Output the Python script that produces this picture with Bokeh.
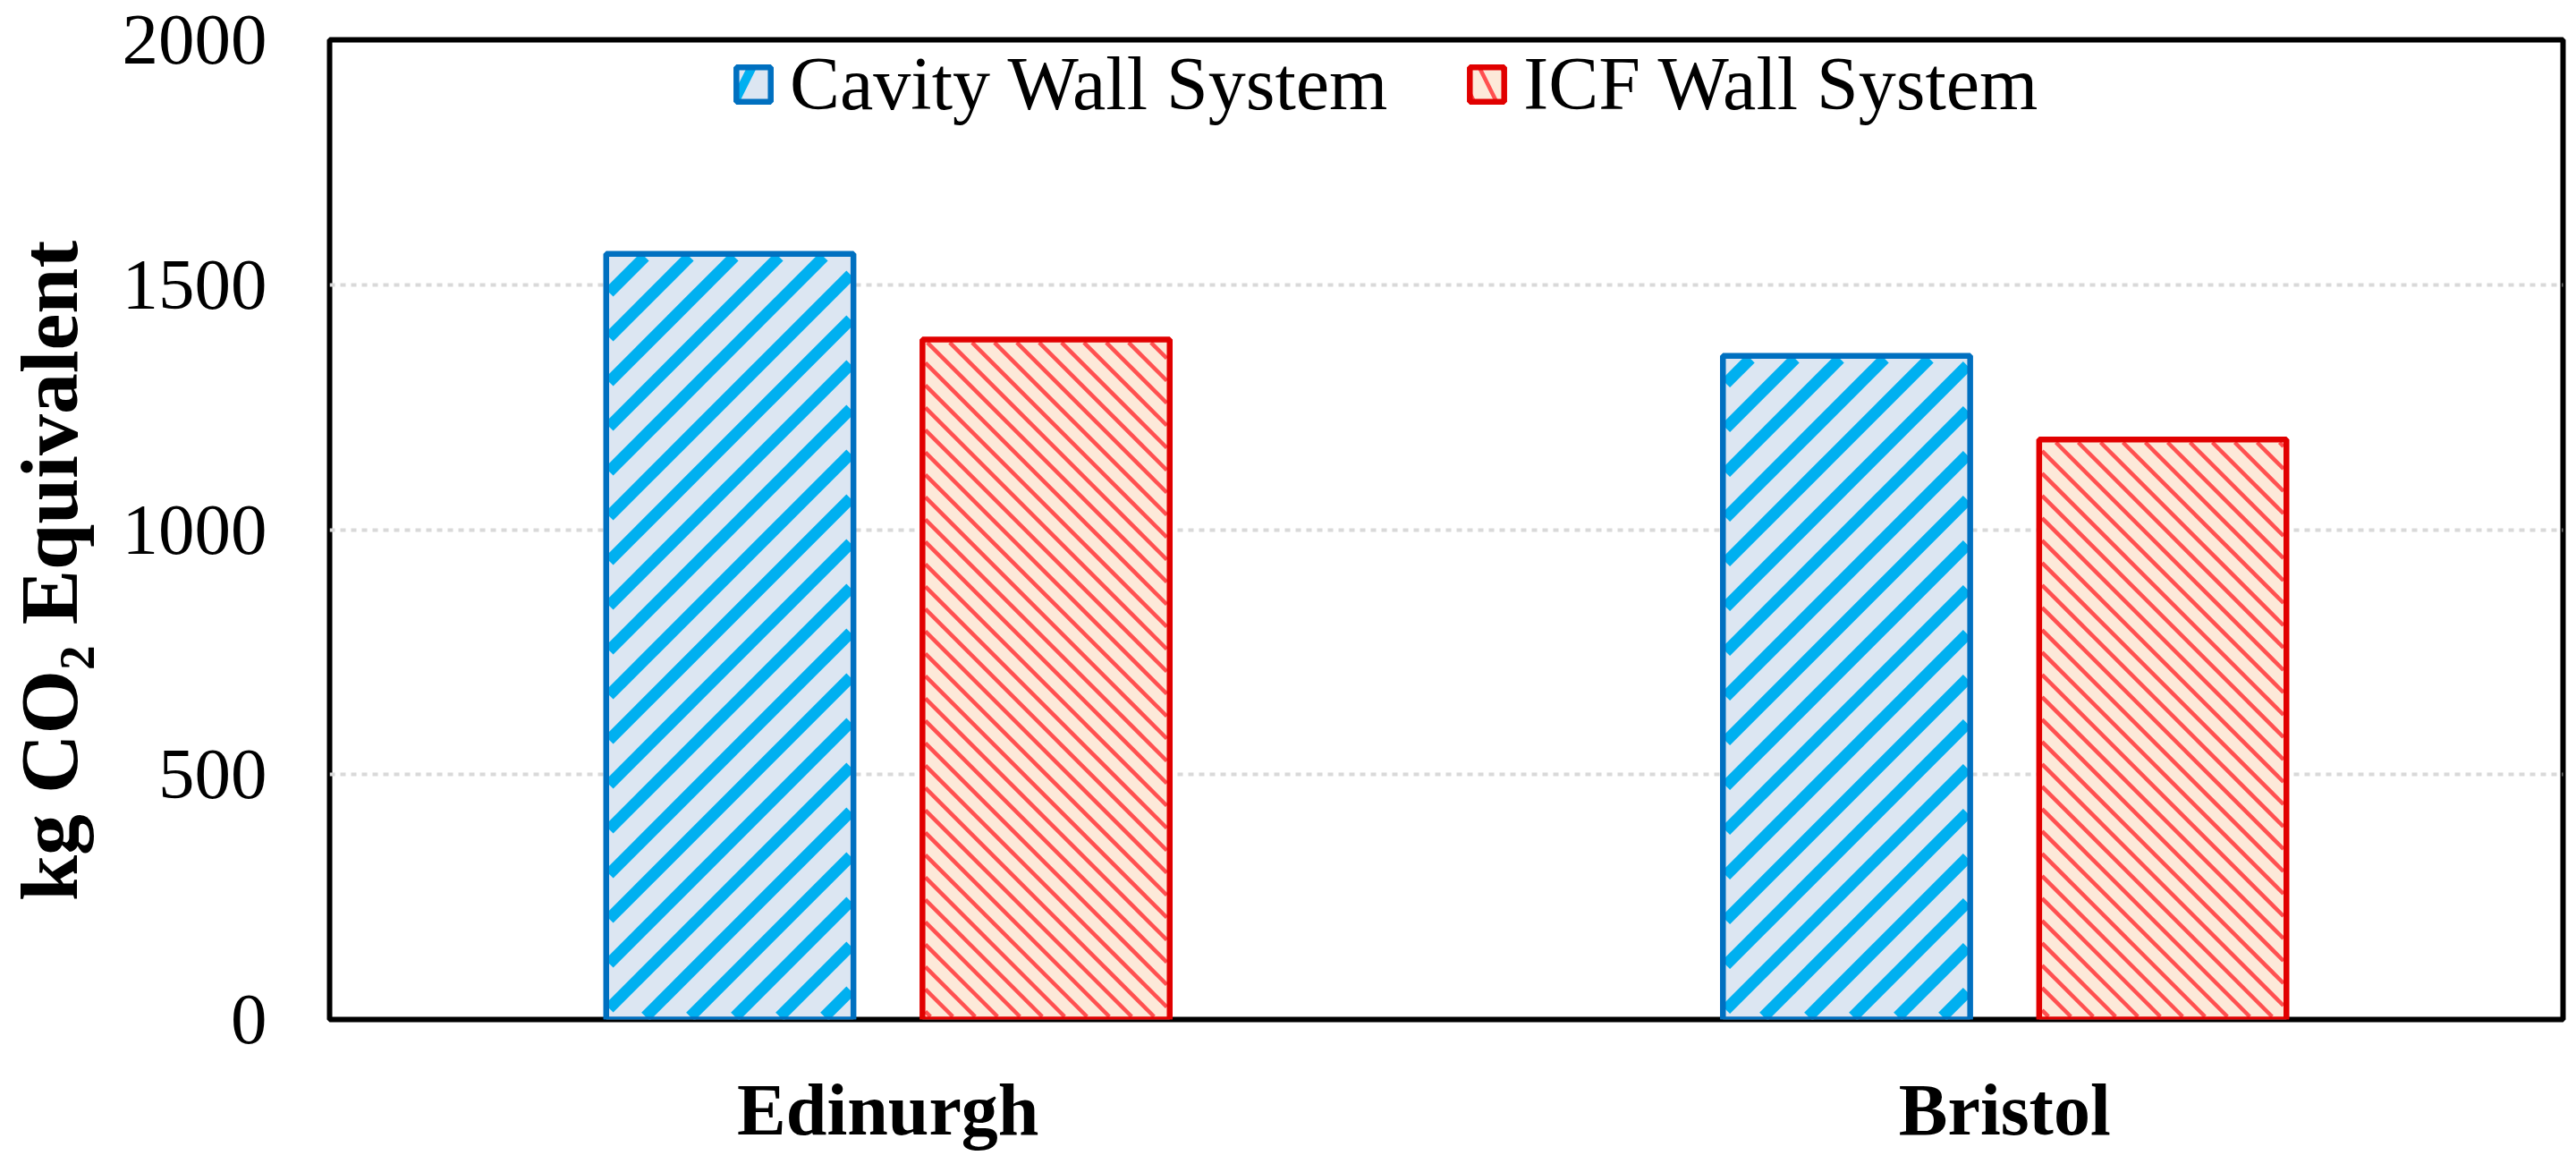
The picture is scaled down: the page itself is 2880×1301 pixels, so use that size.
from bokeh.plotting import figure
from bokeh.models import (FactorRange, Range1d, FixedTicker, Legend, LegendItem,
                          ColumnDataSource)
from bokeh.transform import dodge
from bokeh.embed import file_html
from bokeh.resources import INLINE

# ---- data ----
cities = ["Edinurgh", "Bristol"]
cavity_wall = [1563, 1355]
icf_wall = [1388, 1184]
y_ticks = [0, 500, 1000, 1500, 2000]
series_names = ["Cavity Wall System", "ICF Wall System"]

FONT = "Liberation Serif"
Y_MAX = 2000
FRAME_W, FRAME_H = 2497, 1095
BAR_W, OFFSET = 0.2214, 0.1416
BORDER = 6.5


def stripes(values, offset, spacing, direction):
    """45-degree stripe segments (in data coords) clipped to each bar's inner area."""
    kx = FRAME_W / len(cities)
    ky = FRAME_H / Y_MAX
    inset = BORDER / 2
    xs0, ys0, xs1, ys1 = [], [], [], []
    for i, v in enumerate(values):
        cx = i + 0.5 + offset
        X0 = (cx - BAR_W / 2) * kx + inset
        X1 = (cx + BAR_W / 2) * kx - inset
        Y0 = inset
        Y1 = v * ky - inset
        if direction == "up":
            n0 = int((Y0 - X1) // spacing) - 1
            n1 = int((Y1 - X0) // spacing) + 2
            for n in range(n0, n1):
                c = n * spacing
                a, b = max(X0, Y0 - c), min(X1, Y1 - c)
                if b > a:
                    xs0.append(a / kx); ys0.append((a + c) / ky)
                    xs1.append(b / kx); ys1.append((b + c) / ky)
        else:
            n0 = int((X0 + Y0) // spacing) - 1
            n1 = int((X1 + Y1) // spacing) + 2
            for n in range(n0, n1):
                c = n * spacing
                a, b = max(X0, c - Y1), min(X1, c - Y0)
                if b > a:
                    xs0.append(a / kx); ys0.append((c - a) / ky)
                    xs1.append(b / kx); ys1.append((c - b) / ky)
    return dict(x0=xs0, y0=ys0, x1=xs1, y1=ys1)


p = figure(x_range=FactorRange(factors=cities), y_range=Range1d(0, Y_MAX),
           frame_width=FRAME_W, frame_height=FRAME_H,
           output_backend="svg", toolbar_location=None,
           min_border_left=362, min_border_top=44, min_border_right=5, min_border_bottom=0)

source = ColumnDataSource(dict(city=cities, cavity=cavity_wall, icf=icf_wall))

BLUE_EDGE, BLUE_FILL, BLUE_HATCH = "#0070C0", "#DCE6F2", "#00B0F0"
RED_EDGE, RED_FILL, RED_HATCH = "#E10000", "#FDE9D9", "#FF5050"

# bar fills
p.vbar(x=dodge("city", -OFFSET, range=p.x_range), top="cavity", width=BAR_W, source=source,
       fill_color=BLUE_FILL, line_color=None)
p.vbar(x=dodge("city", OFFSET, range=p.x_range), top="icf", width=BAR_W, source=source,
       fill_color=RED_FILL, line_color=None)

# stripes
p.segment(x0="x0", y0="y0", x1="x1", y1="y1", source=ColumnDataSource(stripes(cavity_wall, -OFFSET, 50, "up")),
          line_color=BLUE_HATCH, line_width=13, line_cap="butt")
p.segment(x0="x0", y0="y0", x1="x1", y1="y1", source=ColumnDataSource(stripes(icf_wall, OFFSET, 25, "down")),
          line_color=RED_HATCH, line_width=4.5, line_cap="butt")

# bar outlines
o1 = p.vbar(x=dodge("city", -OFFSET, range=p.x_range), top="cavity", width=BAR_W, source=source,
            fill_color=None, line_color=BLUE_EDGE, line_width=BORDER)
o2 = p.vbar(x=dodge("city", OFFSET, range=p.x_range), top="icf", width=BAR_W, source=source,
            fill_color=None, line_color=RED_EDGE, line_width=BORDER)

# zero-height bars that only feed the legend swatches (fill + hatch)
k1 = p.vbar(x=dodge("city", -OFFSET, range=p.x_range), top="cavity", bottom="cavity", width=BAR_W,
            source=source, fill_color=BLUE_FILL, line_alpha=0,
            hatch_pattern="/", hatch_color=BLUE_HATCH, hatch_scale=96, hatch_weight=10)
k2 = p.vbar(x=dodge("city", OFFSET, range=p.x_range), top="icf", bottom="icf", width=BAR_W,
            source=source, fill_color=RED_FILL, line_alpha=0,
            hatch_pattern="\\", hatch_color=RED_HATCH, hatch_scale=50, hatch_weight=4.5)

# frame
p.outline_line_color = "black"
p.outline_line_width = 6
p.outline_line_alpha = 1

# grid
p.xgrid.grid_line_color = None
p.ygrid.grid_line_color = "#D9D9D9"
p.ygrid.grid_line_width = 4
p.ygrid.grid_line_dash = "6 6"
p.ygrid.ticker = FixedTicker(ticks=[500, 1000, 1500])

# y axis
p.yaxis.ticker = FixedTicker(ticks=y_ticks)
p.yaxis.axis_line_color = None
p.yaxis.major_tick_line_color = None
p.yaxis.minor_tick_line_color = None
p.yaxis.major_tick_out = 0
p.yaxis.major_tick_in = 0
p.yaxis.major_label_standoff = 70
p.yaxis.major_label_text_font = FONT
p.yaxis.major_label_text_font_size = "81px"
p.yaxis.major_label_text_color = "black"
p.yaxis.axis_label = "kg CO\u2082 Equivalent" + "\u00a0" * 4
p.yaxis.axis_label_text_font = FONT
p.yaxis.axis_label_text_font_style = "bold"
p.yaxis.axis_label_text_font_size = "92px"
p.yaxis.axis_label_text_color = "black"
p.yaxis.axis_label_standoff = 28

# x axis
p.xaxis.axis_line_color = None
p.xaxis.major_tick_line_color = None
p.xaxis.major_tick_out = 0
p.xaxis.major_tick_in = 0
p.xaxis.major_label_standoff = 55
p.xaxis.major_label_text_font = FONT
p.xaxis.major_label_text_font_style = "bold"
p.xaxis.major_label_text_font_size = "82px"
p.xaxis.major_label_text_color = "black"

# legend
legend = Legend(items=[LegendItem(label=series_names[0], renderers=[k1, o1]),
                       LegendItem(label=series_names[1], renderers=[k2, o2])],
                orientation="horizontal", location=(450, 997),
                background_fill_alpha=0, border_line_alpha=0,
                label_text_font=FONT, label_text_font_size="84px", label_text_color="black",
                glyph_width=48, glyph_height=48, label_standoff=17,
                spacing=87, padding=0, margin=0)
p.add_layout(legend, "center")

open("out.html", "w").write(file_html(p, INLINE))
